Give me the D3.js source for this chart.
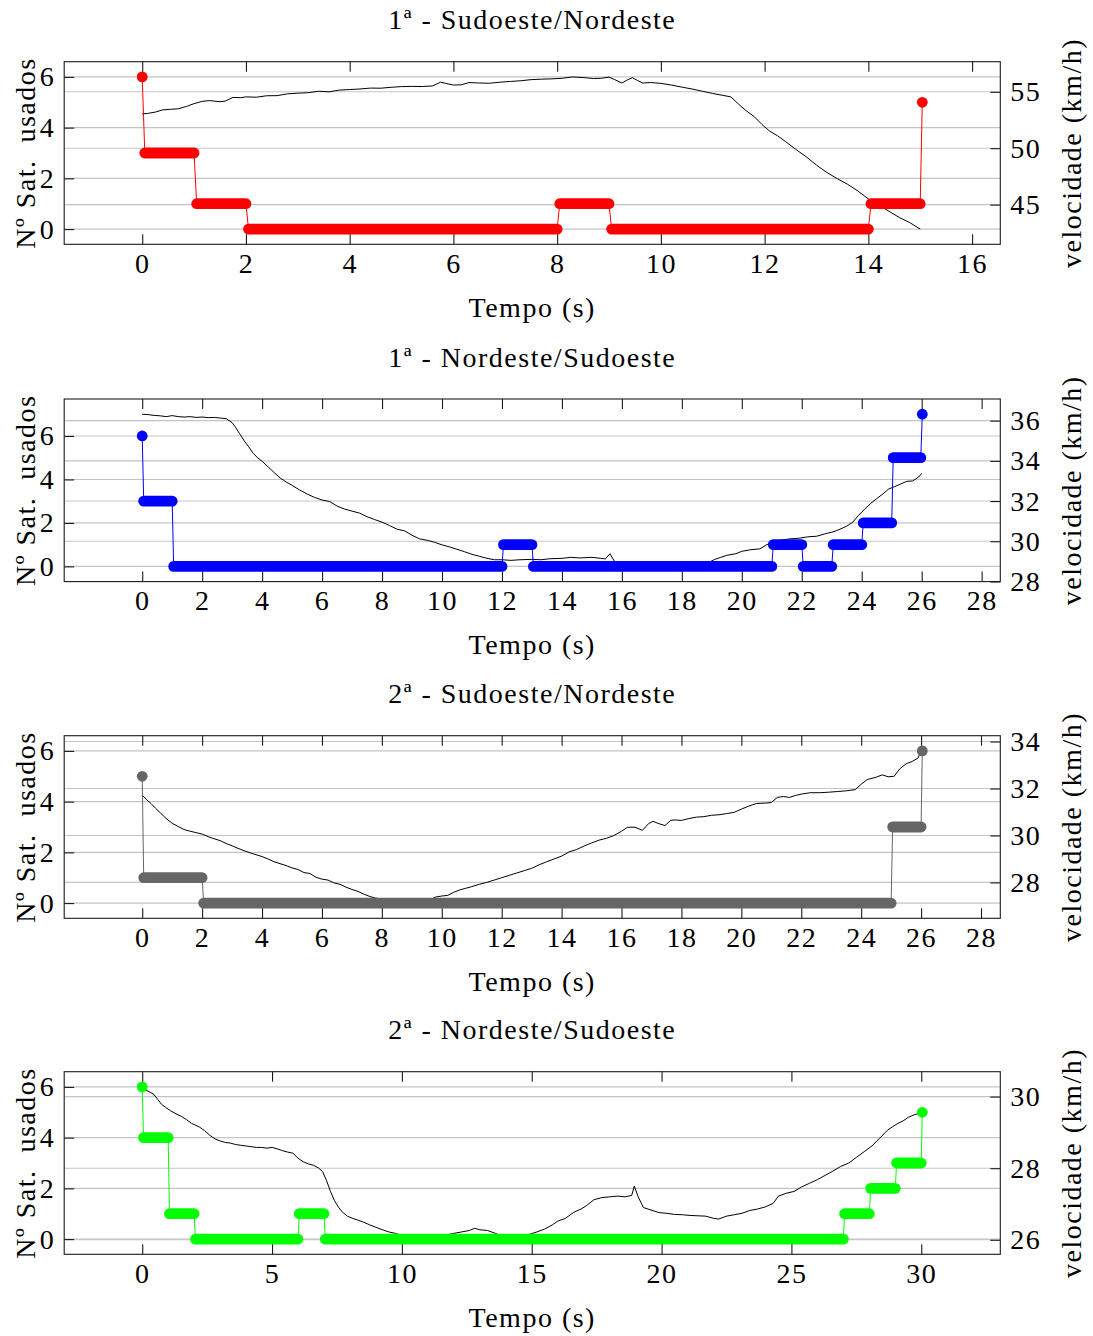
<!DOCTYPE html>
<html>
<head>
<meta charset="utf-8">
<script src="https://cdn.jsdelivr.net/npm/d3@7"></script>
<style>
  body { margin: 0; background: #fff; }
  text { font-family: "Liberation Serif", "Times New Roman", serif; fill: #000; letter-spacing: 1.5px; }
</style>
</head>
<body>
<svg id="chart" width="1093" height="1336"></svg>
<script>
// ---------- Panel titles ----------
const titles = [
  "1ª - Sudoeste/Nordeste",
  "1ª - Nordeste/Sudoeste",
  "2ª - Sudoeste/Nordeste",
  "2ª - Nordeste/Sudoeste"
];

// ---------- Run 1: 1ª Sudoeste/Nordeste ----------
const time1 = [0,0.1,0.25,0.4,0.55,0.7,0.85,1.0,1.15,1.3,1.5,1.6,1.75,1.9,2.0,2.2,2.4,2.6,2.8,3.0,3.2,3.4,3.6,3.8,4.0,4.2,4.4,4.6,4.8,5.0,5.2,5.4,5.6,5.75,5.85,6.0,6.15,6.3,6.5,6.7,6.9,7.1,7.3,7.5,7.7,7.9,8.1,8.3,8.5,8.7,8.85,9.0,9.1,9.25,9.35,9.45,9.55,9.65,9.8,10.0,10.2,10.4,10.6,10.8,11.0,11.2,11.35,11.5,11.65,11.8,11.95,12.1,12.25,12.4,12.6,12.8,13.0,13.2,13.4,13.6,13.8,14.0,14.2,14.4,14.6,14.8,15.0];
const speed1 = [53.05,53.08,53.2,53.4,53.45,53.5,53.7,53.95,54.15,54.22,54.12,54.18,54.5,54.48,54.55,54.52,54.65,54.66,54.82,54.88,54.92,55.05,55.0,55.15,55.2,55.25,55.33,55.32,55.4,55.46,55.48,55.47,55.52,55.85,55.75,55.6,55.62,55.82,55.78,55.76,55.85,55.92,55.98,56.08,56.12,56.15,56.2,56.32,56.26,56.18,56.2,56.3,56.1,55.78,56.05,56.25,56.0,55.78,55.82,55.75,55.6,55.42,55.25,55.05,54.85,54.68,54.55,53.9,53.3,52.8,52.1,51.5,51.1,50.6,49.9,49.25,48.5,47.85,47.3,46.8,46.2,45.5,44.95,44.4,43.85,43.4,42.83];
const satStart1 = [0, 0.05, 1.05, 2.05, 8.05, 9.05, 14.05, 15.04];
const satEnd1   = [0, 1.0,  2.0,  8.0,  9.0,  14.0, 15.0,  15.04];
const satCount1 = [6, 3,    1,    0,    1,    0,    1,     5];
const xTicks1 = [0, 2, 4, 6, 8, 10, 12, 14, 16];
const speedTicks1 = [45, 50, 55];

// ---------- Run 2: 1ª Nordeste/Sudoeste ----------
const time2 = [0,0.2,0.4,0.6,0.8,1.0,1.2,1.4,1.6,1.8,2.0,2.2,2.4,2.6,2.8,3.0,3.1,3.25,3.4,3.55,3.7,3.85,4.0,4.2,4.4,4.6,4.8,5.0,5.25,5.5,5.75,6.0,6.25,6.5,6.75,7.0,7.25,7.5,7.75,8.0,8.25,8.5,8.75,9.0,9.25,9.5,9.75,10.0,10.25,10.5,10.75,11.0,11.25,11.5,11.75,12.0,12.3,12.6,13.0,13.3,13.6,14.0,14.3,14.6,15.0,15.3,15.45,15.6,15.75,16.0,17.0,18.0,18.6,18.9,19.1,19.3,19.5,19.8,20.0,20.3,20.6,20.8,21.0,21.3,21.6,21.9,22.2,22.5,22.8,23.0,23.2,23.5,23.7,23.9,24.1,24.3,24.5,24.7,24.9,25.1,25.3,25.5,25.7,25.9,26.0];
const speed2 = [36.32,36.3,36.26,36.24,36.2,36.25,36.2,36.18,36.2,36.16,36.18,36.15,36.16,36.13,36.1,35.9,35.7,35.35,35.0,34.7,34.38,34.15,33.98,33.7,33.42,33.15,32.95,32.78,32.55,32.35,32.18,32.05,31.98,31.75,31.6,31.5,31.4,31.22,31.08,30.95,30.78,30.6,30.52,30.3,30.12,30.05,29.95,29.82,29.72,29.6,29.48,29.35,29.25,29.15,29.08,29.08,29.05,29.08,29.1,29.08,29.13,29.15,29.2,29.17,29.2,29.15,29.12,29.38,29.0,28.85,28.78,28.75,28.85,28.95,29.1,29.2,29.3,29.38,29.5,29.58,29.62,29.8,29.95,30.05,30.12,30.15,30.22,30.25,30.38,30.45,30.55,30.75,30.95,31.3,31.6,31.88,32.12,32.35,32.6,32.72,32.85,32.98,33.0,33.2,33.38];
const satStart2 = [0, 0.05, 1.05, 12.05, 13.05, 21.05, 22.05, 23.05, 24.05, 25.05, 26.02];
const satEnd2   = [0, 1.0,  12.0, 13.0,  21.0,  22.0,  23.0,  24.0,  25.0,  25.97, 26.02];
const satCount2 = [6, 3,    0,    1,     0,     1,     0,     1,     2,     5,     7];
const xTicks2 = [0, 2, 4, 6, 8, 10, 12, 14, 16, 18, 20, 22, 24, 26, 28];
const speedTicks2 = [28, 30, 32, 34, 36];

// ---------- Run 3: 2ª Sudoeste/Nordeste ----------
const time3 = [0,0.15,0.3,0.45,0.6,0.8,1.0,1.2,1.4,1.6,1.8,2.0,2.2,2.4,2.6,2.8,3.0,3.2,3.4,3.6,3.8,4.0,4.2,4.4,4.6,4.8,5.0,5.2,5.4,5.6,5.8,6.0,6.2,6.4,6.6,6.8,7.0,7.2,7.4,7.6,7.8,8.0,8.5,9.0,9.5,9.8,10.0,10.2,10.4,10.6,10.8,11.0,11.25,11.5,11.75,12.0,12.25,12.5,12.75,13.0,13.25,13.5,13.75,14.0,14.25,14.5,14.75,15.0,15.25,15.5,15.75,16.0,16.2,16.45,16.7,16.9,17.05,17.25,17.45,17.65,17.8,18.0,18.25,18.5,18.75,19.0,19.25,19.5,19.75,20.0,20.25,20.5,20.8,21.0,21.2,21.4,21.6,21.8,22.0,22.3,22.6,22.9,23.2,23.5,23.8,24.0,24.2,24.5,24.7,24.9,25.1,25.3,25.5,25.7,25.9,26.0];
const speed3 = [31.72,31.52,31.35,31.15,30.97,30.72,30.52,30.38,30.25,30.18,30.12,30.06,29.95,29.86,29.78,29.66,29.56,29.45,29.35,29.26,29.18,29.1,29.0,28.88,28.8,28.72,28.62,28.55,28.42,28.38,28.22,28.14,28.1,27.98,27.92,27.8,27.7,27.62,27.5,27.4,27.33,27.3,27.2,27.12,27.2,27.38,27.42,27.45,27.58,27.68,27.75,27.82,27.92,28.0,28.1,28.2,28.3,28.4,28.5,28.6,28.75,28.88,29.0,29.12,29.3,29.4,29.55,29.68,29.8,29.88,30.0,30.18,30.35,30.35,30.22,30.5,30.6,30.5,30.42,30.65,30.66,30.64,30.72,30.78,30.8,30.86,30.88,30.93,30.98,31.12,31.25,31.36,31.38,31.4,31.62,31.66,31.62,31.7,31.76,31.82,31.82,31.84,31.87,31.9,31.95,32.18,32.38,32.48,32.58,32.5,32.52,32.85,33.05,33.15,33.3,33.6];
const satStart3 = [0, 0.05, 2.05, 25.05, 26.04];
const satEnd3   = [0, 2.0,  25.0, 26.0,  26.04];
const satCount3 = [5, 1,    0,    3,     6];
const xTicks3 = [0, 2, 4, 6, 8, 10, 12, 14, 16, 18, 20, 22, 24, 26, 28];
const speedTicks3 = [28, 30, 32, 34];

// ---------- Run 4: 2ª Nordeste/Sudoeste ----------
const time4 = [0,0.15,0.3,0.45,0.6,0.75,0.9,1.1,1.3,1.5,1.7,1.9,2.0,2.2,2.4,2.6,2.8,3.0,3.2,3.4,3.6,3.8,4.0,4.2,4.4,4.6,4.8,5.0,5.2,5.4,5.6,5.8,6.0,6.2,6.4,6.6,6.8,6.95,7.1,7.25,7.4,7.55,7.7,7.9,8.1,8.3,8.5,8.75,9.0,9.25,9.5,9.75,10.0,10.5,11.0,11.5,12.0,12.3,12.6,12.8,13.0,13.3,13.6,14.0,14.5,14.9,15.2,15.5,15.8,16.0,16.3,16.6,16.9,17.1,17.4,17.7,18.0,18.3,18.6,18.85,18.95,19.1,19.3,19.6,19.9,20.2,20.5,20.8,21.1,21.4,21.7,22.0,22.2,22.5,22.8,23.1,23.4,23.7,24.0,24.3,24.5,24.8,25.1,25.4,25.7,26.0,26.3,26.6,26.9,27.2,27.5,27.8,28.1,28.4,28.7,28.9,29.1,29.3,29.5,29.75,30.0];
const speed4 = [30.27,30.18,30.12,30.06,29.92,29.78,29.7,29.6,29.52,29.45,29.36,29.25,29.22,29.15,29.05,28.92,28.82,28.76,28.72,28.7,28.66,28.64,28.62,28.6,28.58,28.58,28.56,28.58,28.54,28.49,28.45,28.42,28.28,28.18,28.12,28.08,28.0,27.9,27.65,27.35,27.1,26.92,26.78,26.66,26.6,26.55,26.5,26.42,26.35,26.28,26.22,26.18,26.12,26.05,26.02,26.1,26.18,26.22,26.26,26.32,26.28,26.26,26.18,26.06,26.05,26.15,26.22,26.3,26.42,26.52,26.6,26.76,26.86,26.95,27.12,27.18,27.2,27.22,27.2,27.24,27.5,27.2,26.9,26.83,26.76,26.74,26.71,26.7,26.68,26.67,26.66,26.6,26.58,26.66,26.7,26.74,26.82,26.86,26.92,27.02,27.22,27.3,27.35,27.48,27.58,27.68,27.8,27.92,28.05,28.14,28.3,28.46,28.62,28.84,29.06,29.16,29.25,29.32,29.42,29.5,29.53];
const satStart4 = [0, 0.05, 1.05, 2.05, 6.05, 7.05, 27.05, 28.05, 29.05, 30.04];
const satEnd4   = [0, 1.0,  2.0,  6.0,  7.0,  27.0, 28.0,  29.0,  30.0,  30.04];
const satCount4 = [6, 4,    1,    0,    1,    0,    1,     2,     3,     5];
const xTicks4 = [0, 5, 10, 15, 20, 25, 30];
const speedTicks4 = [26, 28, 30];

// Shared left-axis ticks and series colours
const satTicks = [0, 2, 4, 6];
const satColors = ["#ff0000", "#0000ff", "#666666", "#00ff00"];

const runs = [
  { time: time1, speed: speed1, s0: satStart1, s1: satEnd1, n: satCount1, xt: xTicks1, vt: speedTicks1 },
  { time: time2, speed: speed2, s0: satStart2, s1: satEnd2, n: satCount2, xt: xTicks2, vt: speedTicks2 },
  { time: time3, speed: speed3, s0: satStart3, s1: satEnd3, n: satCount3, xt: xTicks3, vt: speedTicks3 },
  { time: time4, speed: speed4, s0: satStart4, s1: satEnd4, n: satCount4, xt: xTicks4, vt: speedTicks4 }
];

// ---------- Layout ----------
const plotLeft = 64.2, plotRight = 1000.3, plotH = 182.6;
const panelTops = [61.7, 399, 735.7, 1071.7];
const FS = 28;
const gridColor = "#c4c4c4";

// Extend a [min, max] range by 10% on each side
const enlarge = ([a, b]) => { const d = (b - a) * 0.1; return [a - d, b + d]; };

const svg = d3.select("#chart");

runs.forEach((r, i) => {
  const g = svg.append("g").attr("transform", `translate(0,${panelTops[i]})`);
  const color = satColors[i];

  const x = d3.scaleLinear()
    .domain(enlarge(d3.extent(r.time.concat(r.s0, r.s1))))
    .range([plotLeft, plotRight]);
  const ySat = d3.scaleLinear().domain(enlarge(d3.extent(r.n))).range([plotH, 0]);
  const ySpd = d3.scaleLinear().domain(enlarge(d3.extent(r.speed))).range([plotH, 0]);

  // horizontal grid for both y axes
  const grid = g.append("g").attr("stroke", gridColor).attr("stroke-width", 1.1);
  satTicks.forEach(v => grid.append("line")
    .attr("x1", plotLeft).attr("x2", plotRight).attr("y1", ySat(v)).attr("y2", ySat(v)));
  r.vt.forEach(v => grid.append("line")
    .attr("x1", plotLeft).attr("x2", plotRight).attr("y1", ySpd(v)).attr("y2", ySpd(v)));

  // speed trace
  const spdLine = d3.line().x(d => x(d[0])).y(d => ySpd(d[1]));
  g.append("path")
    .datum(r.time.map((t, k) => [t, r.speed[k]]))
    .attr("d", spdLine)
    .attr("fill", "none")
    .attr("stroke", "#000")
    .attr("stroke-width", 1.0)
    .attr("stroke-linejoin", "round");

  // satellite count: thin connecting line through every run
  const stepPts = [];
  r.n.forEach((v, k) => { stepPts.push([r.s0[k], v]); stepPts.push([r.s1[k], v]); });
  g.append("path")
    .datum(stepPts)
    .attr("d", d3.line().x(d => x(d[0])).y(d => ySat(d[1])))
    .attr("fill", "none")
    .attr("stroke", color)
    .attr("stroke-width", 1.0);

  // dense markers: each run drawn as a round-capped thick stroke
  const runsData = r.n.map((v, k) => ({ t0: r.s0[k], t1: r.s1[k], v }));
  g.append("g").selectAll("line")
    .data(runsData.filter(d => d.t1 > d.t0))
    .join("line")
    .attr("x1", d => x(d.t0)).attr("x2", d => x(d.t1))
    .attr("y1", d => ySat(d.v)).attr("y2", d => ySat(d.v))
    .attr("stroke", color)
    .attr("stroke-width", 10.8)
    .attr("stroke-linecap", "round");
  g.append("g").selectAll("circle")
    .data(runsData.filter(d => d.t1 === d.t0))
    .join("circle")
    .attr("cx", d => x(d.t0)).attr("cy", d => ySat(d.v))
    .attr("r", 5.4)
    .attr("fill", color);

  // axes (ticks pointing inwards)
  const styleAxis = sel => {
    sel.select(".domain").remove();
    sel.selectAll(".tick line").attr("stroke", "#1a1a1a").attr("stroke-width", 1.1);
    sel.selectAll(".tick text").attr("font-size", FS).attr("font-family", null).attr("fill", "#000");
  };
  g.append("g").attr("transform", `translate(0,${plotH})`)
    .call(d3.axisBottom(x).tickValues(r.xt).tickSizeInner(-10).tickSizeOuter(0).tickPadding(9).tickFormat(d3.format("d")))
    .call(styleAxis);
  g.append("g")
    .call(d3.axisTop(x).tickValues(r.xt).tickSizeInner(-10).tickSizeOuter(0).tickFormat(""))
    .call(styleAxis);
  g.append("g").attr("transform", `translate(${plotLeft},0)`)
    .call(d3.axisLeft(ySat).tickValues(satTicks).tickSizeInner(-10).tickSizeOuter(0).tickPadding(9).tickFormat(d3.format("d")))
    .call(styleAxis);
  g.append("g").attr("transform", `translate(${plotRight},0)`)
    .call(d3.axisRight(ySpd).tickValues(r.vt).tickSizeInner(-10).tickSizeOuter(0).tickPadding(10).tickFormat(d3.format("d")))
    .call(styleAxis);

  // frame
  g.append("rect")
    .attr("x", plotLeft).attr("y", 0)
    .attr("width", plotRight - plotLeft).attr("height", plotH)
    .attr("fill", "none").attr("stroke", "#1a1a1a").attr("stroke-width", 1.1);

  // texts
  const cx = (plotLeft + plotRight) / 2;
  g.append("text").attr("x", cx).attr("y", -32.5)
    .attr("text-anchor", "middle").attr("font-size", FS).text(titles[i]);
  g.append("text").attr("x", cx).attr("y", plotH + 72.4)
    .attr("text-anchor", "middle").attr("font-size", FS).text("Tempo (s)");
  g.append("text")
    .attr("transform", `translate(35,${plotH / 2}) rotate(-90)`)
    .attr("text-anchor", "middle").attr("font-size", FS)
    .style("white-space", "pre")
    .text("Nº Sat.  usados");
  g.append("text")
    .attr("transform", `translate(1081,${plotH / 2}) rotate(-90)`)
    .attr("text-anchor", "middle").attr("font-size", FS)
    .text("velocidade (km/h)");
});
</script>
</body>
</html>
